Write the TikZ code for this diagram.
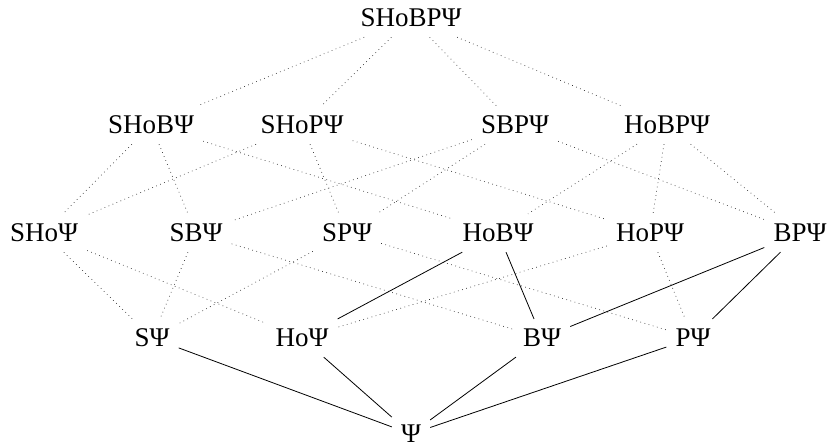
\documentclass[tikz,border=0pt]{standalone}
\usepackage{fontspec}
\setmainfont{Liberation Serif}
\begin{document}
\begin{tikzpicture}[x=1pt,y=-1pt,
  lat/.style={inner xsep=9pt,inner ysep=10pt,font=\fontsize{27}{30}\selectfont},
  dot/.style={line width=0.7pt,dash pattern=on 0.7pt off 3.6pt,black!80},
  sol/.style={line width=0.8pt}]
\useasboundingbox (0,0) rectangle (831,447);
\node[lat] (t) at (411,18) {SHoBPΨ};
\node[lat] (shob) at (151,125) {SHoBΨ};
\node[lat] (shop) at (302,125) {SHoPΨ};
\node[lat] (sbp) at (515,125) {SBPΨ};
\node[lat] (hobp) at (667,125) {HoBPΨ};
\node[lat] (sho) at (44,233) {SHoΨ};
\node[lat] (sb) at (196,233) {SBΨ};
\node[lat] (sp) at (347,233) {SPΨ};
\node[lat] (hob) at (498,233) {HoBΨ};
\node[lat] (hop) at (650,233) {HoPΨ};
\node[lat] (bp) at (800,233) {BPΨ};
\node[lat] (s) at (152,338) {SΨ};
\node[lat] (ho) at (302,338) {HoΨ};
\node[lat] (b) at (542,338) {BΨ};
\node[lat] (p) at (693,338) {PΨ};
\node[lat] (e) at (411,434) {Ψ};
\foreach \a/\b in {t/shob,t/shop,t/sbp,t/hobp,
  shob/sho,shob/sb,shob/hob,shop/sho,shop/sp,shop/hop,
  sbp/sb,sbp/sp,sbp/bp,hobp/hob,hobp/hop,hobp/bp,
  sho/s,sho/ho,sb/s,sb/b,sp/s,sp/p,hop/ho,hop/p}
  \draw[dot] (\a) -- (\b);
\foreach \a/\b in {hob/ho,hob/b,bp/b,bp/p,s/e,ho/e,b/e,p/e}
  \draw[sol] (\a) -- (\b);
\end{tikzpicture}
\end{document}
